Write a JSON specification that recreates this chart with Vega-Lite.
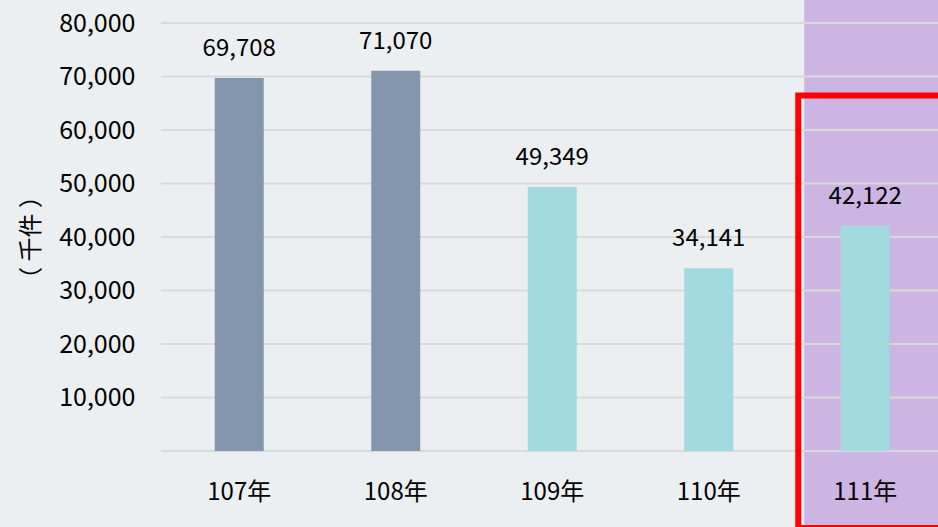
{
  "$schema": "https://vega.github.io/schema/vega-lite/v6.json",
  "width": 777,
  "height": 428,
  "autosize": "none",
  "padding": {"left": 161, "top": 23, "right": 0, "bottom": 76},
  "background": "#ECEFF1",
  "config": {
    "view": {"stroke": null},
    "font": "Noto Sans CJK TC"
  },
  "datasets": {
    "bars": [
      {"year": "107年", "value": 69708, "group": "a"},
      {"year": "108年", "value": 71070, "group": "a"},
      {"year": "109年", "value": 49349, "group": "b"},
      {"year": "110年", "value": 34141, "group": "b"},
      {"year": "111年", "value": 42122, "group": "b"}
    ],
    "grid": [
      {"v": 0}, {"v": 10000}, {"v": 20000}, {"v": 30000}, {"v": 40000},
      {"v": 50000}, {"v": 60000}, {"v": 70000}, {"v": 80000}
    ],
    "band": [{"year": "111年", "top": 84500, "bottom": -14500}],
    "frame": [{"year": "111年", "top": 66450, "bottom": -14400}]
  },
  "encoding": {
    "x": {
      "field": "year", "type": "nominal", "sort": null,
      "scale": {"domain": ["107年", "108年", "109年", "110年", "111年"], "range": [0, 782.5], "paddingInner": 0.687, "paddingOuter": 0.3435},
      "axis": {"title": null, "labelAngle": 0, "domain": false, "ticks": false, "labelFontSize": 24, "labelColor": "#000000", "labelPadding": 29, "labelFont": "Noto Sans CJK TC"}
    }
  },
  "layer": [
    {
      "data": {"name": "band"},
      "mark": {"type": "rect", "color": "#CDB5E3", "width": 200, "xOffset": 39, "clip": false},
      "encoding": {
        "y": {"field": "top", "type": "quantitative", "scale": {"domain": [0, 80000]}},
        "y2": {"field": "bottom"}
      }
    },
    {
      "data": {"name": "grid"},
      "mark": {"type": "rule", "color": "#D7D9DB", "strokeWidth": 2},
      "encoding": {
        "x": null,
        "y": {"field": "v", "type": "quantitative"}
      }
    },
    {
      "data": {"name": "bars"},
      "mark": {"type": "bar"},
      "encoding": {
        "y": {
          "field": "value", "type": "quantitative",
          "scale": {"domain": [0, 80000]},
          "axis": {
            "title": "（  千件  ）", "titleFontSize": 24, "titleFontWeight": "normal", "titleColor": "#000000", "titlePadding": 15,
            "values": [10000, 20000, 30000, 40000, 50000, 60000, 70000, 80000],
            "format": ",d", "grid": false, "domain": false, "ticks": false,
            "labelFontSize": 25, "labelColor": "#000000", "labelPadding": 26
          }
        },
        "color": {
          "field": "group", "type": "nominal",
          "scale": {"domain": ["a", "b"], "range": ["#8496AE", "#A2DADF"]},
          "legend": null
        }
      }
    },
    {
      "data": {"name": "bars"},
      "mark": {"type": "text", "baseline": "alphabetic", "dy": -22, "fontSize": 24, "color": "#000000"},
      "encoding": {
        "y": {"field": "value", "type": "quantitative"},
        "text": {"field": "value", "type": "quantitative", "format": ",d"}
      }
    },
    {
      "data": {"name": "frame"},
      "mark": {"type": "rect", "fill": null, "fillOpacity": 0, "stroke": "#FF0000", "strokeWidth": 6, "width": 200, "xOffset": 33, "clip": false},
      "encoding": {
        "y": {"field": "top", "type": "quantitative"},
        "y2": {"field": "bottom"}
      }
    }
  ]
}
